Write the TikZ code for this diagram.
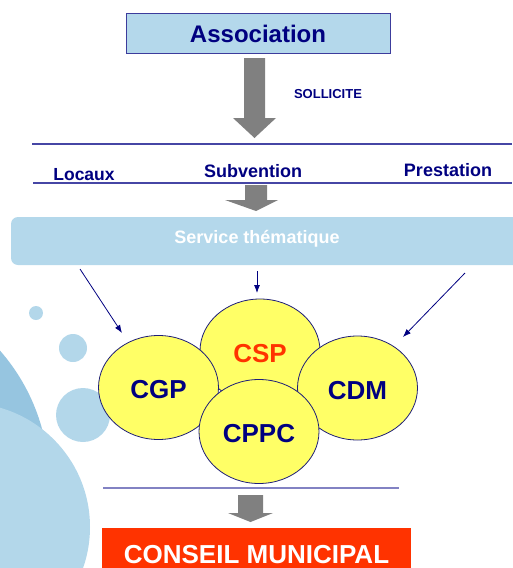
\documentclass[tikz,border=0pt]{standalone}
\usepackage{fontspec}
\setmainfont{Liberation Sans}
\usetikzlibrary{shapes.geometric,arrows.meta}
\definecolor{navytext}{RGB}{0,0,128}
\definecolor{boxblue}{RGB}{180,216,235}
\definecolor{boxline}{RGB}{60,60,156}
\definecolor{ruleblue}{RGB}{70,70,165}
\definecolor{rulelight}{RGB}{130,130,195}
\definecolor{arrowgray}{RGB}{128,128,128}
\definecolor{bubbleyellow}{RGB}{255,255,102}
\definecolor{bubbleline}{RGB}{30,30,120}
\definecolor{conseilred}{RGB}{255,51,0}
\definecolor{disclight}{RGB}{179,215,234}
\definecolor{discdark}{RGB}{150,197,224}
\begin{document}
\begin{tikzpicture}[x=1pt,y=-1pt,
  tabtext/.style={anchor=base,inner sep=0pt,text=navytext,font=\bfseries\fontsize{18}{18}\selectfont},
  bubble/.style={ellipse,draw=bubbleline,fill=bubbleyellow,line width=0.8pt,minimum width=120pt,minimum height=104pt,inner sep=0pt,text height=22pt,text depth=0pt,text=navytext,font=\bfseries\fontsize{26}{26}\selectfont},
  smallarrow/.style={draw=navytext,line width=0.8pt,-{Latex[length=8pt,width=6pt]}},
  bigarrow/.style={fill=arrowgray,draw=none},
  rule/.style={draw=ruleblue,line width=1.2pt}]
\useasboundingbox (0,0) rectangle (512,568);

% background discs
\fill[discdark] (-149,481) circle (198);
\fill[disclight] (-34,527) circle (124);
\fill[disclight] (36,313) circle (7);
\fill[disclight] (73,348) circle (14);
\fill[disclight] (83,415) circle (27);

% Association
\node[draw=boxline,fill=boxblue,line width=1pt,minimum width=264pt,minimum height=40pt,inner sep=0pt,text height=18pt,text depth=0pt,text=navytext,font=\bfseries\fontsize{24}{24}\selectfont] (assoc) at (258,33) {Association};
\fill[bigarrow] (244,58) -- (265,58) -- (265,118) -- (276,118) -- (254.5,138) -- (233,118) -- (244,118) -- cycle;
\node[tabtext,font=\bfseries\fontsize{13}{13}\selectfont] (sollicite) at (328,98) {SOLLICITE};

% rules and aids
\draw[rule] (32,144) -- (512,144);
\node[tabtext,font=\bfseries\fontsize{17.5}{17.5}\selectfont] (locaux) at (84,180) {Locaux};
\node[tabtext] (subvention) at (253,177) {Subvention};
\node[tabtext] (prestation) at (448,176) {Prestation};
\draw[rule] (33,183) -- (512,183);
\fill[bigarrow] (245,185) -- (267,185) -- (267,200) -- (278,200) -- (256,211) -- (225,200) -- (245,200) -- cycle;

% Service thematique
\fill[boxblue,rounded corners=7pt] (11,217) rectangle (530,265);
\node[tabtext,text=white] (service) at (257,243) {Service thématique};

% commissions
\node[bubble] (csp) at (260,351) {\textcolor{conseilred}{CSP}};
\node[bubble] (cgp) at (158.5,387.5) {CGP};
\node[bubble] (cdm) at (357.5,388) {CDM};
\node[bubble] (cppc) at (259,431.5) {CPPC};

\coordinate (fromL) at (80,269);
\coordinate (toL) at (122,333);
\coordinate (fromM) at (257,271);
\coordinate (toM) at (257,293);
\coordinate (fromR) at (465,273);
\coordinate (toR) at (403,337);
\draw[smallarrow] (fromL) -- (toL);
\draw[smallarrow] (fromM) -- (toM);
\draw[smallarrow] (fromR) -- (toR);

% Conseil municipal
\draw[draw=rulelight,line width=1.5pt] (103,488) -- (399,488);
\fill[bigarrow] (238,495) -- (263,495) -- (263,513) -- (273,513) -- (250.5,522) -- (228,513) -- (238,513) -- cycle;
\node[fill=conseilred,minimum width=309pt,minimum height=48pt,inner sep=0pt,text height=22pt,text depth=0pt,text=white,font=\bfseries\fontsize{26}{26}\selectfont] (conseil) at (256.5,552) {CONSEIL MUNICIPAL};
\end{tikzpicture}
\end{document}
